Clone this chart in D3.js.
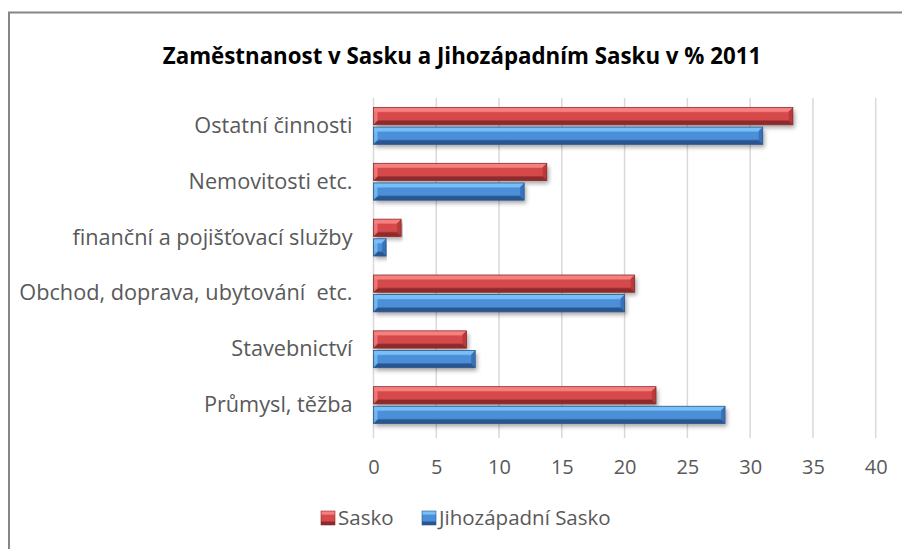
<!DOCTYPE html>
<html>
<head>
<meta charset="utf-8">
<script src="https://cdn.jsdelivr.net/npm/d3@7"></script>
<style>
  body { margin: 0; background: #fff; }
  svg text { font-family: "Open Sans", "Noto Sans", sans-serif; white-space: pre; }
</style>
</head>
<body>
<script>
// data
const categories = ["Ostatní činnosti", "Nemovitosti etc.", "finanční a pojišťovací služby",
                    "Obchod, doprava, ubytování  etc.", "Stavebnictví", "Průmysl, těžba"];
const seriesNames = ["Sasko", "Jihozápadní Sasko"];
const sasko = [33.4, 13.8, 2.2, 20.8, 7.4, 22.5];
const jihozapadni = [31.0, 12.0, 1.0, 20.0, 8.1, 28.0];
const ticks = [0, 5, 10, 15, 20, 25, 30, 35, 40];

const w = 902, h = 549;
const plotL = 373.5, plotR = 875.7, plotT = 98, plotB = 433;

const svg = d3.select("body").append("svg")
  .attr("width", w).attr("height", h);

const defs = svg.append("defs");
const palettes = {
  Sasko: {light: "#f58080", face: "#d64a4b", dark: "#8e2a2b", end: "#b83a3b"},
  "Jihozápadní Sasko": {light: "#78bff7", face: "#4b8fd8", dark: "#2a5590", end: "#3a72b8"}
};
seriesNames.forEach((s, i) => {
  const g = defs.append("linearGradient").attr("id", "g" + i)
    .attr("x1", 0).attr("x2", 0).attr("y1", 0).attr("y2", 1);
  const p = palettes[s];
  g.append("stop").attr("offset", "0%").attr("stop-color", p.light);
  g.append("stop").attr("offset", "22%").attr("stop-color", p.light);
  g.append("stop").attr("offset", "30%").attr("stop-color", p.face);
  g.append("stop").attr("offset", "70%").attr("stop-color", p.face);
  g.append("stop").attr("offset", "80%").attr("stop-color", p.dark);
  g.append("stop").attr("offset", "100%").attr("stop-color", p.dark);
});
const f = defs.append("filter").attr("id", "shadow")
  .attr("x", "-5%").attr("y", "-30%").attr("width", "110%").attr("height", "180%");
f.append("feDropShadow").attr("dx", 2).attr("dy", 3).attr("stdDeviation", 2)
  .attr("flood-color", "#000").attr("flood-opacity", 0.35);

// frame
svg.append("path")
  .attr("d", "M9,560 L9,12.5 L910,12.5")
  .attr("fill", "none").attr("stroke", "#868686").attr("stroke-width", 2);

svg.append("text")
  .attr("x", 462).attr("y", 64)
  .attr("text-anchor", "middle")
  .attr("font-size", 22.3).attr("font-weight", "bold").attr("fill", "#000")
  .text("Zaměstnanost v Sasku a Jihozápadním Sasku v % 2011");

const x = d3.scaleLinear().domain([0, 40]).range([plotL, plotR]);
const y = d3.scaleBand().domain(categories).range([plotT, plotB]);
const ySub = d3.scaleBand().domain(seriesNames)
  .range([9.5, y.bandwidth() - 9.5]).paddingInner(0.12);

// gridlines
svg.append("g")
  .selectAll("line").data(ticks).join("line")
  .attr("x1", d => x(d)).attr("x2", d => x(d))
  .attr("y1", plotT).attr("y2", plotB + 5)
  .attr("stroke", "#d9d9d9").attr("stroke-width", 1.5);

// x axis labels
const xAxis = d3.axisBottom(x).tickValues(ticks).tickSize(0).tickPadding(0);
const ax = svg.append("g").attr("transform", `translate(0,${plotB + 27})`).call(xAxis);
ax.select(".domain").remove();
ax.selectAll("text").attr("font-size", 20).attr("fill", "#595959")
  .attr("font-family", "'Open Sans', sans-serif");

// category labels
const yAxis = d3.axisLeft(y).tickSize(0).tickPadding(0);
const ay = svg.append("g").attr("transform", `translate(${plotL - 21},0)`).call(yAxis);
ay.select(".domain").remove();
ay.selectAll("text").attr("font-size", 21.7).attr("fill", "#595959")
  .attr("font-family", "'Open Sans', sans-serif");

// bars
const rows = [];
categories.forEach((c, i) => {
  rows.push({cat: c, s: "Sasko", si: 0, v: sasko[i]});
  rows.push({cat: c, s: "Jihozápadní Sasko", si: 1, v: jihozapadni[i]});
});

const bars = svg.append("g").selectAll("g.bar").data(rows).join("g")
  .attr("class", "bar")
  .attr("transform", d => `translate(0,${y(d.cat) + ySub(d.s)})`);

const bh = ySub.bandwidth();
const bev = 4;
bars.append("rect")
  .attr("x", x(0)).attr("y", 0)
  .attr("width", d => x(d.v) - x(0)).attr("height", bh)
  .attr("fill", d => `url(#g${d.si})`)
  .attr("filter", "url(#shadow)");
// right end bevel
bars.append("polygon")
  .attr("points", d => {
    const x1 = x(d.v);
    return `${x1},0 ${x1},${bh} ${x1 - bev},${bh - bev} ${x1 - bev},${bev}`;
  })
  .attr("fill", d => palettes[d.s].end);
// left end bevel
bars.append("polygon")
  .attr("points", d => {
    const x0 = x(0);
    return `${x0},0 ${x0 + bev},${bev} ${x0 + bev},${bh - bev} ${x0},${bh}`;
  })
  .attr("fill", d => palettes[d.s].light).attr("opacity", 0.8);
bars.append("rect")
  .attr("x", x(0)).attr("y", 0)
  .attr("width", d => x(d.v) - x(0)).attr("height", bh)
  .attr("fill", "none")
  .attr("stroke", d => palettes[d.s].dark).attr("stroke-width", 0.8);

// legend
const legend = svg.append("g");
const legendX = [321, 422];
seriesNames.forEach((s, i) => {
  const lg = legend.append("g").attr("transform", `translate(${legendX[i]},511)`);
  lg.append("rect").attr("width", 14).attr("height", 14)
    .attr("fill", `url(#g${i})`).attr("stroke", palettes[s].dark).attr("stroke-width", 0.6);
  lg.append("text").attr("x", 17).attr("y", 14)
    .attr("font-size", 20.5).attr("fill", "#595959").text(s);
});
</script>
</body>
</html>
